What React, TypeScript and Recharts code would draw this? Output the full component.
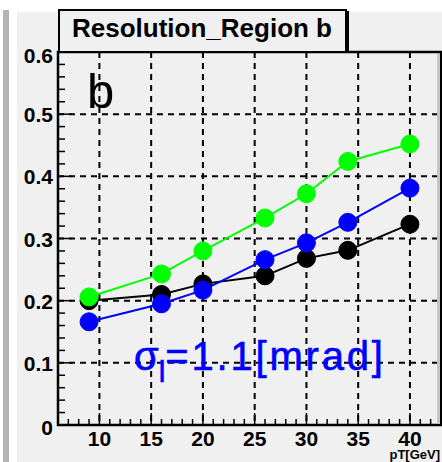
import React from 'react';
import { LineChart, Line, XAxis, YAxis, CartesianGrid, ReferenceArea } from 'recharts';

const ptValues = [9, 16, 20, 26, 30, 34, 40];
const blackSeries = [0.2, 0.21, 0.227, 0.24, 0.268, 0.281, 0.323];
const blueSeries = [0.166, 0.195, 0.217, 0.266, 0.293, 0.326, 0.381];
const greenSeries = [0.206, 0.243, 0.28, 0.333, 0.372, 0.424, 0.452];

const xMajorTicks = [10, 15, 20, 25, 30, 35, 40];
const xAllTicks = [7, 8, 9, 10, 11, 12, 13, 14, 15, 16, 17, 18, 19, 20, 21, 22, 23, 24, 25, 26, 27, 28, 29, 30, 31, 32, 33, 34, 35, 36, 37, 38, 39, 40, 41, 42];
const yAllTicks = [0, 0.02, 0.04, 0.06, 0.08, 0.1, 0.12, 0.14, 0.16, 0.18, 0.2, 0.22, 0.24, 0.26, 0.28, 0.3, 0.32, 0.34, 0.36, 0.38, 0.4, 0.42, 0.44, 0.46, 0.48, 0.5, 0.52, 0.54, 0.56, 0.58, 0.6];
const yGridValues = [0.1, 0.2, 0.3, 0.4, 0.5];

const FONT = '"Liberation Sans", Arial, Helvetica, sans-serif';

const data = ptValues.map((pt, i) => ({
    pt,
    black: blackSeries[i],
    blue: blueSeries[i],
    green: greenSeries[i],
}));

const isMajorY = (v: number) => Math.round(v * 100) % 10 === 0;

const XTick = ({ x, y, payload }: any) => {
    const v = payload.value;
    const major = v % 5 === 0;
    return (
        <g>
            <line x1={x} x2={x} y1={y} y2={y - (major ? 12 : 6)} stroke="#000" strokeWidth={1.5} />
            {major && (
                <text x={x} y={y + 21} textAnchor="middle" fontFamily={FONT} fontWeight="bold" fontSize={21} fill="#000">
                    {v}
                </text>
            )}
        </g>
    );
};

const YTick = ({ x, y, payload }: any) => {
    const v = payload.value;
    const major = isMajorY(v);
    let dy = 8;
    if (v === 0.6) dy = 11;
    if (v === 0) dy = 10;
    return (
        <g>
            <line x1={x} x2={x + (major ? 14 : 7)} y1={y} y2={y} stroke="#000" strokeWidth={1.5} />
            {major && (
                <text x={53} y={y + dy} textAnchor="end" fontFamily={FONT} fontWeight="bold" fontSize={21} fill="#000">
                    {v === 0 ? '0' : v.toFixed(1)}
                </text>
            )}
        </g>
    );
};

const App: React.FC = () => {
    return (
        <div style={{ position: 'absolute', left: 0, top: 0, width: 442, height: 462, background: '#ffffff', overflow: 'hidden' }}>
            <div style={{ position: 'absolute', left: 3, top: 10, width: 6, height: 452, background: '#b4b4b4' }} />
            <div style={{ position: 'absolute', left: 17, top: 12, width: 425, height: 450, background: '#f0f0f0' }} />
            <div style={{ position: 'absolute', left: 0, top: 0 }}>
                <LineChart width={442} height={462} data={data} margin={{ top: 52, right: 1, left: 8, bottom: 7 }}>
                    <CartesianGrid
                        fill="#f0f0f0"
                        stroke="#000"
                        strokeWidth={2}
                        strokeDasharray="6 5"
                        horizontalValues={yGridValues}
                        verticalValues={xMajorTicks}
                    />
                    <XAxis
                        dataKey="pt"
                        type="number"
                        domain={[6, 43]}
                        ticks={xAllTicks}
                        interval={0}
                        allowDataOverflow
                        height={30}
                        tickSize={0}
                        tickMargin={0}
                        axisLine={false}
                        tick={<XTick />}
                    />
                    <YAxis
                        type="number"
                        domain={[0, 0.6]}
                        ticks={yAllTicks}
                        interval={0}
                        allowDataOverflow
                        width={50}
                        tickSize={0}
                        tickMargin={0}
                        axisLine={false}
                        tick={<YTick />}
                    />
                    <ReferenceArea x1={6} x2={43} y1={0} y2={0.6} fill="none" stroke="#000" strokeWidth={2.5} ifOverflow="visible" />
                    <Line dataKey="black" stroke="#000000" strokeWidth={2} dot={{ r: 9, fill: '#000000', stroke: '#000000', strokeWidth: 1 }} isAnimationActive={false} />
                    <Line dataKey="blue" stroke="#0000ff" strokeWidth={2} dot={{ r: 9, fill: '#0000ff', stroke: '#0000ff', strokeWidth: 1 }} isAnimationActive={false} />
                    <Line dataKey="green" stroke="#00ff00" strokeWidth={2} dot={{ r: 9, fill: '#00ff00', stroke: '#00ff00', strokeWidth: 1 }} isAnimationActive={false} />
                </LineChart>
            </div>
            <div style={{ position: 'absolute', left: 437, top: 54, width: 3, height: 370, background: '#c4c4c4' }} />
            <svg width={442} height={462} style={{ position: 'absolute', left: 0, top: 0, pointerEvents: 'none' }}>
                <rect x={59} y={10} width={287} height={42} fill="#f0f0f0" stroke="#000" strokeWidth={2} />
                <rect x={346} y={11} width={3} height={41} fill="#000" />
                <text x={202} y={37} textAnchor="middle" fontFamily={FONT} fontWeight="bold" fontSize={26} fill="#000">
                    Resolution_Region b
                </text>
                <text x={87} y={108} fontFamily={FONT} fontSize={49} fill="#000">b</text>
                <text x={134} y={370} fontFamily={FONT} fontSize={40} fill="#0000ff" stroke="#0000ff" strokeWidth={0.6}>
                    σ
                    <tspan fontSize={30} dy={12}>l</tspan>
                    <tspan fontSize={40} dy={-12} letterSpacing={2.8}>=1.1[mrad]</tspan>
                </text>
                <text x={440} y={459} textAnchor="end" fontFamily={FONT} fontWeight="bold" fontSize={13} fill="#000">
                    pT[GeV]
                </text>
            </svg>
        </div>
    );
};

export default App;
